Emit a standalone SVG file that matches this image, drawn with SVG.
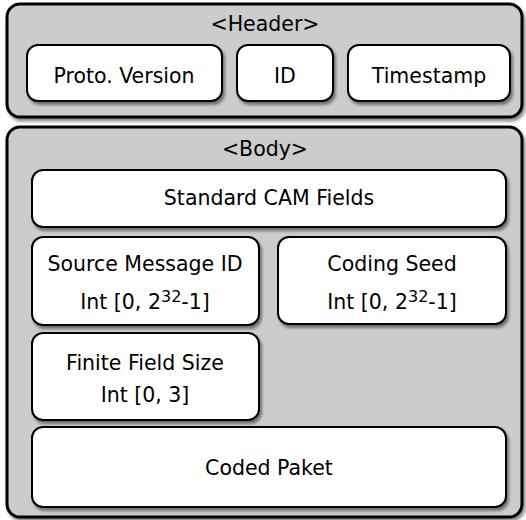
<svg xmlns="http://www.w3.org/2000/svg" width="526" height="520" viewBox="0 0 526 520">
<defs>
<filter id="sh" x="-10%" y="-10%" width="120%" height="130%">
<feDropShadow dx="2" dy="3" stdDeviation="1.5" flood-color="#000" flood-opacity="0.45"/>
</filter>
</defs>
<style>
.outer{fill:#cccccc;stroke:#000;stroke-width:3;filter:url(#sh)}
.box{fill:#fff;stroke:#000;stroke-width:2;filter:url(#sh)}
text{font-family:"DejaVu Sans",Verdana,sans-serif;font-size:20.5px;fill:#000;text-anchor:middle}
.sup{font-size:16px}
</style>
<g id="header">
<rect class="outer" x="7" y="4" width="515" height="113" rx="13"/>
<text x="265" y="31">&lt;Header&gt;</text>
</g>
<g id="proto-version">
<rect class="box" x="27" y="45" width="195" height="56" rx="11"/>
<text x="124" y="83">Proto. Version</text>
</g>
<g id="id">
<rect class="box" x="237" y="45" width="96" height="56" rx="11"/>
<text x="285" y="83">ID</text>
</g>
<g id="timestamp">
<rect class="box" x="348" y="45" width="162" height="56" rx="11"/>
<text x="429" y="83">Timestamp</text>
</g>
<g id="body">
<rect class="outer" x="7" y="127" width="515" height="390" rx="13"/>
<text x="265" y="156">&lt;Body&gt;</text>
</g>
<g id="standard-cam">
<rect class="box" x="32" y="170" width="474" height="57" rx="11"/>
<text x="269" y="205">Standard CAM Fields</text>
</g>
<g id="source-message-id">
<rect class="box" x="32" y="237" width="227" height="88" rx="11"/>
<text x="145" y="271">Source Message ID</text>
<text x="145" y="309">Int [0, 2<tspan class="sup" dy="-7.5">32</tspan><tspan dy="7.5">-1]</tspan></text>
</g>
<g id="coding-seed">
<rect class="box" x="278" y="237" width="228" height="87" rx="11"/>
<text x="392" y="271">Coding Seed</text>
<text x="392" y="309">Int [0, 2<tspan class="sup" dy="-7.5">32</tspan><tspan dy="7.5">-1]</tspan></text>
</g>
<g id="finite-field-size">
<rect class="box" x="32" y="333" width="227" height="87" rx="11"/>
<text x="145" y="370">Finite Field Size</text>
<text x="145" y="402">Int [0, 3]</text>
</g>
<g id="coded-paket">
<rect class="box" x="32" y="427" width="474" height="80" rx="11"/>
<text x="269" y="475">Coded Paket</text>
</g>
<g id="connectors"/>
</svg>
